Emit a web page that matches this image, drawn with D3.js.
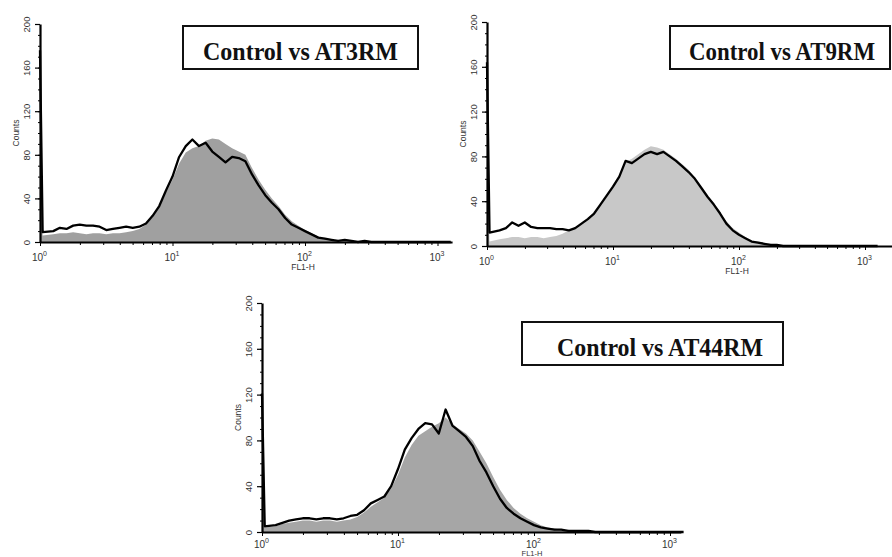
<!DOCTYPE html>
<html>
<head>
<meta charset="utf-8">
<script src="https://cdn.jsdelivr.net/npm/d3@7"></script>
<style>
body { margin: 0; background: #fff; }
</style>
</head>
<body>
<div class="chart"></div>
<script>
// FL1-H channel positions, in decades (log10)
const fl1Decades = [0, 0.02, 0.1, 0.15, 0.2, 0.25, 0.3, 0.35, 0.4, 0.45,
  0.5, 0.55, 0.6, 0.65, 0.7, 0.75, 0.8, 0.85, 0.9, 0.95,
  1, 1.05, 1.1, 1.15, 1.2, 1.25, 1.3, 1.35, 1.4, 1.45,
  1.5, 1.55, 1.6, 1.65, 1.7, 1.75, 1.8, 1.85, 1.9, 1.95,
  2, 2.05, 2.1, 2.15, 2.2, 2.25, 2.3, 2.35, 2.4, 2.45,
  2.5, 2.55, 2.6, 2.65, 2.7, 2.75, 2.8, 2.85, 2.9, 2.95,
  3, 3.05, 3.1];

// counts, grey filled histogram (control) and black outline (sample)
const at3Fill = [105, 6, 7, 8, 8, 9, 8, 7, 8, 8,
  7, 8, 8, 9, 10, 12, 16, 23, 32, 45,
  57, 72, 82, 86, 88, 93, 95, 94, 90, 86,
  83, 80, 68, 57, 48, 40, 33, 25, 19, 15,
  11, 8, 5, 3, 2, 1, 1, 1, 0, 1,
  0, 0, 0, 0, 0, 0, 0, 0, 0, 0, 0, 0, 0];
const at3Line = [176, 9, 10, 13, 12, 15, 16, 15, 15, 14,
  11, 12, 13, 14, 13, 14, 17, 24, 33, 47,
  60, 78, 88, 94, 88, 91, 83, 78, 73, 78,
  77, 74, 62, 52, 43, 36, 30, 22, 16, 13,
  10, 7, 4, 3, 2, 1, 2, 1, 0, 1,
  0, 0, 0, 0, 0, 0, 0, 0, 0, 0, 0, 0, 0];

const at9Fill = [97, 4, 6, 7, 8, 8, 7, 8, 8, 7,
  8, 9, 11, 14, 16, 20, 24, 29, 36, 44,
  53, 63, 75, 78, 82, 86, 89, 88, 86, 82,
  78, 73, 68, 61, 53, 45, 38, 30, 22, 16,
  12, 8, 5, 4, 3, 2, 1, 1, 0, 0,
  0, 0, 0, 0, 0, 0, 0, 0, 0, 0, 0, 0, 0];
const at9Line = [164, 12, 14, 16, 21, 18, 21, 17, 16, 16,
  16, 15, 15, 14, 16, 20, 24, 29, 37, 45,
  53, 62, 76, 74, 78, 82, 84, 82, 84, 80,
  76, 71, 66, 60, 52, 44, 37, 29, 20, 14,
  10, 7, 4, 3, 2, 1, 1, 0, 0, 0,
  0, 0, 0, 0, 0, 0, 0, 0, 0, 0, 0, 0, 0];

const at44Fill = [69, 4, 5, 7, 8, 9, 10, 10, 9, 10,
  10, 9, 10, 11, 13, 17, 22, 26, 30, 38,
  50, 65, 76, 84, 88, 92, 95, 100, 94, 90,
  86, 80, 70, 60, 48, 37, 28, 21, 16, 12,
  9, 6, 4, 3, 2, 2, 1, 1, 1, 0,
  0, 0, 0, 0, 0, 0, 0, 0, 0, 0, 0, 0, 0];
const at44Line = [121, 5, 6, 8, 10, 11, 12, 12, 11, 12,
  12, 11, 12, 14, 15, 19, 25, 28, 31, 40,
  55, 72, 82, 90, 95, 94, 86, 107, 93, 88,
  83, 75, 62, 52, 40, 29, 21, 16, 12, 9,
  6, 4, 3, 2, 2, 1, 1, 1, 1, 0,
  0, 0, 0, 0, 0, 0, 0, 0, 0, 0, 0, 0, 0];

const titles = ["Control vs AT3RM", "Control vs AT9RM", "Control vs AT44RM"];
const countTicks = [0, 40, 80, 120, 160, 200];
const decadeTicks = [1, 10, 100, 1000];

const sans = "'Liberation Sans', Arial, sans-serif";
const serif = "'Liberation Serif', 'Times New Roman', 'DejaVu Serif', serif";

// layout of the three panels
const panels = [
  { title: titles[0], fill: at3Fill, line: at3Line, fillColor: "#a0a0a0",
    x0: 40, decadePx: 132.5, maxDec: 3.11, yBase: 242, yTop: 24, decY: 19, flY: 270, flSize: 8.5,
    box: { x: 183, y: 26, w: 235, h: 43, tx: 300.5, tw: 195 } },
  { title: titles[1], fill: at9Fill, line: at9Line, fillColor: "#c8c8c8",
    x0: 487, decadePx: 126, maxDec: 3.3, yBase: 246, yTop: 22, decY: 19, flY: 274, flSize: 8.5,
    box: { x: 670, y: 26, w: 220, h: 43, tx: 782, tw: 186 } },
  { title: titles[2], fill: at44Fill, line: at44Line, fillColor: "#a6a6a6",
    x0: 262, decadePx: 136, maxDec: 3.08, yBase: 532, yTop: 303, decY: 16, flY: 556, flSize: 7.5,
    box: { x: 522, y: 322, w: 261, h: 43, tx: 660, tw: 206 } }
];

const width = 892, height = 557;
const svg = d3.select(".chart").append("svg")
    .attr("width", width)
    .attr("height", height)
    .style("display", "block");

panels.forEach(p => {
  const x = d3.scaleLog()
      .domain([1, Math.pow(10, p.maxDec)])
      .range([p.x0, p.x0 + p.decadePx * p.maxDec]);
  const y = d3.scaleLinear()
      .domain([0, 200])
      .range([p.yBase, p.yTop]);
  const g = svg.append("g");

  const pts = fl1Decades.map((d, i) => ({ v: Math.pow(10, d), fill: p.fill[i], line: p.line[i] }));

  // control histogram (filled)
  g.append("path")
      .datum(pts)
      .attr("fill", p.fillColor)
      .attr("d", d3.area()
        .x(d => x(d.v))
        .y0(y(0))
        .y1(d => y(d.fill)));

  // sample histogram (outline)
  g.append("path")
      .datum(pts)
      .attr("fill", "none")
      .attr("stroke", "#000")
      .attr("stroke-width", 2.3)
      .attr("stroke-linejoin", "round")
      .attr("d", d3.line()
        .x(d => x(d.v))
        .y(d => y(d.line)));

  // y axis: minor + major ticks
  g.append("g")
      .attr("transform", `translate(${p.x0},0)`)
      .call(d3.axisLeft(y).tickValues(d3.range(0, 201, 10)).tickSize(2).tickSizeOuter(0).tickFormat(""))
      .call(a => a.select(".domain").attr("stroke-width", 2.2));
  const gy = g.append("g")
      .attr("transform", `translate(${p.x0},0)`)
      .call(d3.axisLeft(y).tickValues(countTicks).tickSize(5).tickSizeOuter(0).tickFormat(d => d));
  gy.select(".domain").remove();
  gy.selectAll(".tick line").attr("stroke-width", 1.2);
  gy.selectAll(".tick text")
      .attr("transform", "rotate(-90)")
      .attr("x", 0)
      .attr("y", -10)
      .attr("dy", 0)
      .attr("font-family", sans)
      .attr("font-size", 9.5)
      .attr("fill", "#333")
      .style("text-anchor", "middle");

  // x axis: minor + decade ticks
  const minors = [];
  [1, 10, 100, 1000].forEach(b => [2, 3, 4, 5, 6, 7, 8, 9].forEach(m => {
    if (b * m <= x.domain()[1]) minors.push(b * m);
  }));
  g.append("g")
      .attr("transform", `translate(0,${p.yBase})`)
      .call(d3.axisBottom(x).tickValues(minors).tickSize(3).tickSizeOuter(0).tickFormat(""))
      .call(a => a.select(".domain").attr("stroke-width", 2.2));
  const gx = g.append("g")
      .attr("transform", `translate(0,${p.yBase})`)
      .call(d3.axisBottom(x).tickValues(decadeTicks).tickSize(4).tickSizeOuter(0).tickFormat(""));
  gx.select(".domain").remove();
  const lab = gx.selectAll(".tick").append("text")
      .attr("y", p.decY)
      .attr("x", -1)
      .attr("fill", "#333")
      .attr("font-family", sans)
      .attr("font-size", 10)
      .style("text-anchor", "middle");
  lab.append("tspan").text("10");
  lab.append("tspan")
      .attr("dy", -5)
      .attr("font-size", 7)
      .text(d => Math.round(Math.log10(d)));

  // axis titles
  g.append("text")
      .attr("x", x(100) - 2)
      .attr("y", p.flY)
      .attr("fill", "#333")
      .attr("font-family", sans)
      .attr("font-size", p.flSize)
      .style("text-anchor", "middle")
      .text("FL1-H");
  g.append("text")
      .attr("transform", `translate(${p.x0 - 21},${y(100)}) rotate(-90)`)
      .attr("fill", "#333")
      .attr("font-family", sans)
      .attr("font-size", 8.5)
      .style("text-anchor", "middle")
      .text("Counts");

  // title box
  g.append("rect")
      .attr("x", p.box.x)
      .attr("y", p.box.y)
      .attr("width", p.box.w)
      .attr("height", p.box.h)
      .attr("fill", "#fff")
      .attr("stroke", "#111")
      .attr("stroke-width", 2);
  g.append("text")
      .attr("x", p.box.tx)
      .attr("y", p.box.y + 34)
      .attr("textLength", p.box.tw)
      .attr("lengthAdjust", "spacingAndGlyphs")
      .attr("font-family", serif)
      .attr("font-weight", "bold")
      .attr("font-size", 26)
      .attr("fill", "#111")
      .style("text-anchor", "middle")
      .text(p.title);
});
</script>
</body>
</html>
